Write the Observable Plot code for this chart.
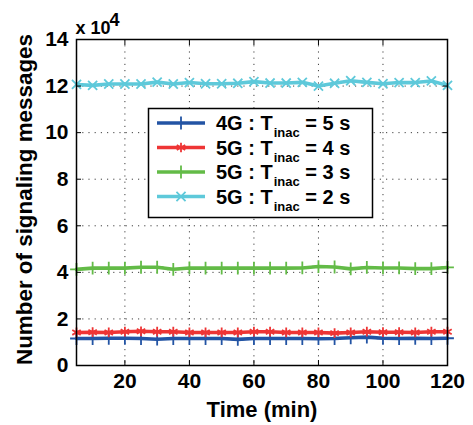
<!DOCTYPE html>
<html><head><meta charset="utf-8">
<script src="https://cdn.jsdelivr.net/npm/d3@7"></script>
<script src="https://cdn.jsdelivr.net/npm/@observablehq/plot@0.6"></script>
<style>
body{margin:0;background:#fff;}
#wrap{position:relative;width:473px;height:425px;font-family:"Liberation Sans",Arial,sans-serif;font-weight:bold;}
#wrap svg{position:absolute;left:0;top:0;}
</style></head><body><div id="wrap"></div>
<script>
// ---- data ----
const times = [5,10,15,20,25,30,35,40,45,50,55,60,65,70,75,80,85,90,95,100,105,110,115,120];
const seriesGen = ["4G","5G","5G","5G"];
const seriesTinac = [5,4,3,2];
const seriesColors = ["#2354a4","#ee3535","#63bb47","#5ec9da"];
const seriesSymbols = ["plus","asterisk","plus","times"];
const values4G_5s = [11600,11600,11700,11700,11600,11300,11600,11600,11600,11600,11200,11600,11600,11600,11600,11500,11600,11900,12200,11700,11600,11700,11600,11700];
const values5G_4s = [14200,14300,14200,14500,14700,14500,14500,14200,14200,14200,14200,14500,14500,14200,14200,14200,13900,14200,14500,14300,14300,14200,14500,14500];
const values5G_3s = [41300,41800,41800,41800,42200,42200,41300,41900,41800,41800,41800,41800,41800,41800,41900,42500,42300,41500,42100,41900,41900,41600,41600,42100];
const values5G_2s = [120700,120300,120900,120900,120900,121700,120900,121500,121000,121000,121200,121900,121300,121300,121600,120000,121200,122300,121600,121000,121500,121500,122200,120300];
const xTicks = [20,40,60,80,100,120];
const yTicks = [0,20000,40000,60000,80000,100000,120000,140000];
const xLabel = "Time (min)";
const yLabel = "Number of signaling messages";
const exponentBase = "x 10";
const exponent = "4";

const seriesValues = [values4G_5s, values5G_4s, values5G_3s, values5G_2s];
const series = seriesValues.map((vals, i) => ({
  color: seriesColors[i], symbol: seriesSymbols[i],
  gen: seriesGen[i], tinac: seriesTinac[i],
  data: vals.map((v, j) => ({t: times[j], v}))
}));

const font = "Liberation Sans, Arial, sans-serif";
const marks = [
  Plot.gridX({ticks: xTicks.slice(0, -1), stroke: "#000", strokeOpacity: 0.75, strokeDasharray: "1.2,5"}),
  Plot.gridY({ticks: yTicks.slice(1, -1), stroke: "#000", strokeOpacity: 0.75, strokeDasharray: "1.2,5"})
];
series.forEach(s => {
  marks.push(Plot.line(s.data, {x: "t", y: "v", stroke: s.color, strokeWidth: 3.6}));
  marks.push(Plot.dot(s.data, {x: "t", y: "v", symbol: s.symbol, r: s.symbol === "asterisk" ? 4.6 : 4.2, stroke: s.color, strokeWidth: 1.8}));
});
marks.push(
  Plot.frame({stroke: "#000", strokeWidth: 1.5}),
  Plot.axisX({anchor: "bottom", ticks: xTicks, tickSize: -5, tickPadding: 13, fontSize: 21, fontWeight: "bold", label: null}),
  Plot.axisX({anchor: "top", ticks: xTicks, tickSize: -5, tickFormat: () => "", label: null}),
  Plot.axisY({anchor: "left", ticks: yTicks, tickSize: -5, tickPadding: 13, fontSize: 21, fontWeight: "bold", tickFormat: d => d / 10000, label: null}),
  Plot.axisY({anchor: "right", ticks: yTicks, tickSize: -5, tickFormat: () => "", label: null}),
  Plot.text([xLabel], {text: d => d, frameAnchor: "bottom", dy: 51, lineAnchor: "bottom", textAnchor: "middle", fontSize: 22, fontWeight: "bold"}),
  Plot.text([yLabel], {text: d => d, frameAnchor: "left", rotate: -90, dx: -60, dy: -3, lineAnchor: "top", textAnchor: "middle", fontSize: 22.4, fontWeight: "bold"}),
  Plot.text([exponentBase], {text: d => d, frameAnchor: "top-left", dx: -1, dy: -6, lineAnchor: "bottom", textAnchor: "start", fontSize: 18, fontWeight: "bold"}),
  Plot.text([exponent], {text: d => d, frameAnchor: "top-left", dx: 33, dy: -14, lineAnchor: "bottom", textAnchor: "start", fontSize: 18, fontWeight: "bold"})
);

const chart = Plot.plot({
  width: 473, height: 425,
  marginLeft: 76, marginRight: 26, marginTop: 39, marginBottom: 60,
  x: {domain: [5, 120]},
  y: {domain: [0, 140000]},
  style: {fontFamily: font, fontWeight: "bold", fontSize: "21px", color: "#000", background: "#fff"},
  marks
});
document.getElementById("wrap").appendChild(chart);

// ---- legend overlay ----
const leg = d3.select("#wrap").append("svg").attr("width", 473).attr("height", 425)
  .style("pointer-events", "none").style("font-family", font).style("font-weight", "bold");
leg.append("rect").attr("x", 148.5).attr("y", 108.5).attr("width", 224).attr("height", 109)
  .attr("fill", "#fff").attr("stroke", "#000").attr("stroke-width", 1.5);
const symMap = {plus: d3.symbolPlus, asterisk: d3.symbolAsterisk, times: d3.symbolTimes};
series.forEach((s, i) => {
  const cy = 123 + i * 24.5;
  leg.append("line").attr("x1", 157).attr("x2", 205).attr("y1", cy).attr("y2", cy)
    .attr("stroke", s.color).attr("stroke-width", 3.6);
  const r = s.symbol === "asterisk" ? 4.6 : 4.2;
  leg.append("path").attr("transform", `translate(181,${cy})`)
    .attr("d", d3.symbol(symMap[s.symbol], r * r * Math.PI)())
    .attr("fill", "none").attr("stroke", s.color).attr("stroke-width", 1.8);
  const t = leg.append("text").attr("x", 216).attr("y", cy + 7).attr("font-size", 20).attr("fill", "#000");
  t.append("tspan").text(`${s.gen} : T`);
  t.append("tspan").attr("font-size", 13).attr("dy", 7).attr("dx", 1).text("inac");
  t.append("tspan").attr("font-size", 20).attr("dy", -7).text(` = ${s.tinac} s`);
});
</script>
</body></html>
